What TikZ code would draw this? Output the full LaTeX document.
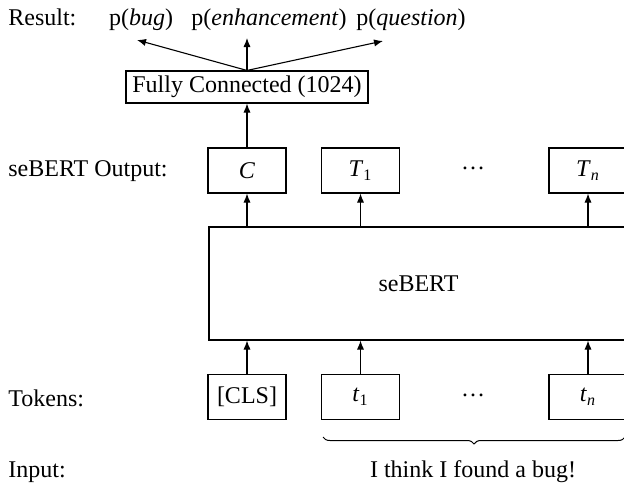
\documentclass[tikz,border=0pt]{standalone}
\usepackage{fontspec}
\setmainfont{Liberation Serif}
\usetikzlibrary{arrows.meta,decorations.pathreplacing}
\begin{document}
\begin{tikzpicture}[x=0.5pt,y=-0.5pt,
  f/.style={font=\fontsize{12}{14}\selectfont},
  box/.style={f,draw,line width=0.55pt,minimum width=39pt,minimum height=22.5pt,inner sep=0pt},
  lbl/.style={f,anchor=base west,inner sep=0pt},
  txt/.style={f,anchor=base,inner sep=0pt},
  arr/.style={-{Latex[length=4.5pt,width=3.6pt]},line width=0.55pt}]
\clip (0,0) rectangle (624,483);
% left labels
\node[lbl] (lres) at (8,25) {Result:};
\node[lbl] (lout) at (8,176) {seBERT Output:};
\node[lbl] (ltok) at (8,406) {Tokens:};
\node[lbl] (linp) at (8,477) {Input:};
% results
\node[txt] (pbug) at (141,25) {p(\textit{bug})};
\node[txt] (penh) at (269,25) {p(\textit{enhancement})};
\node[txt] (pque) at (411,25) {p(\textit{question})};
\coordinate (tbug) at (137,40);
\coordinate (tenh) at (247,38);
\coordinate (tque) at (383,41);
% fully connected
\node[box,minimum width=121pt,minimum height=16pt] (fc) at (247,87) {Fully Connected (1024)};
% outputs
\node[box] (oc) at (247,170.5) {\textit{C}};
\node[box] (ot1) at (360.5,170.5) {\textit{T}\textsubscript{1}};
\node[box] (otn) at (588,170.5) {\textit{T}\textsubscript{\textit{n}}};
\node[f,inner sep=0pt] (odots) at (473,170) {\raisebox{0.25ex}{…}};
% seBERT
\node[box,minimum width=209.5pt,minimum height=56.5pt] (sb) at (418.5,283.5) {seBERT};
% tokens
\node[box] (tc) at (247,397) {[CLS]};
\node[box] (tt1) at (360.5,397) {\textit{t}\textsubscript{1}};
\node[box] (ttn) at (588,397) {\textit{t}\textsubscript{\textit{n}}};
\node[f,inner sep=0pt] (tdots) at (473,397) {\raisebox{0.25ex}{…}};
% brace and input
\coordinate (bl) at (323,437);
\coordinate (br) at (625,437);
\draw[line width=0.5pt,decorate,decoration={brace,mirror,amplitude=3.5pt}] (bl) -- (br);
\node[txt] (inp) at (473,477) {I think I found a bug!};
% arrows
\draw[arr] (fc.north) -- (tbug);
\draw[arr] (fc.north) -- (tenh);
\draw[arr] (fc.north) -- (tque);
\draw[arr] (oc.north) -- (fc.south);
\draw[arr] (oc.south |- sb.north) -- (oc.south);
\draw[arr] (ot1.south |- sb.north) -- (ot1.south);
\draw[arr] (otn.south |- sb.north) -- (otn.south);
\draw[arr] (tc.north) -- (tc.north |- sb.south);
\draw[arr] (tt1.north) -- (tt1.north |- sb.south);
\draw[arr] (ttn.north) -- (ttn.north |- sb.south);
\end{tikzpicture}
\end{document}
